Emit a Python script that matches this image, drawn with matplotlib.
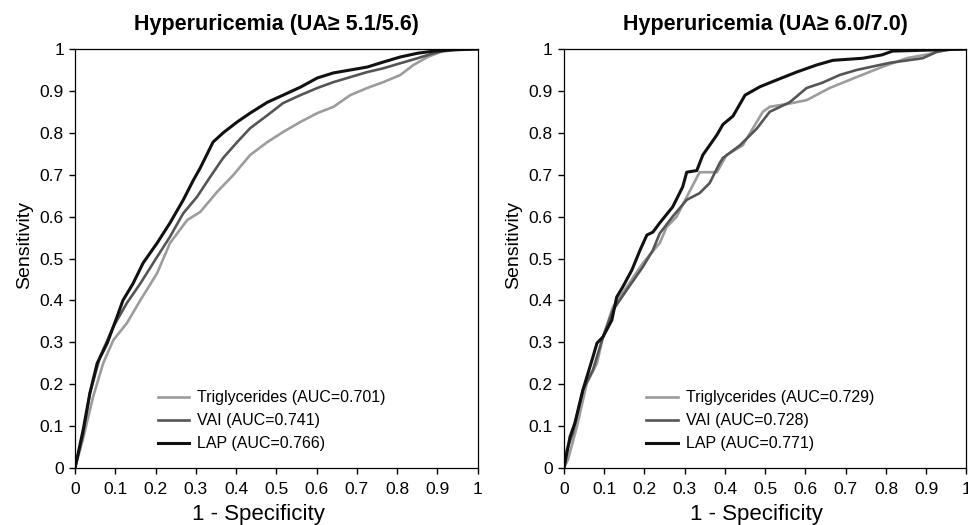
import matplotlib.pyplot as plt

plt.rcParams['font.family'] = ['Liberation Sans', 'DejaVu Sans']

# left panel: UA >= 5.1/5.6
tg1_x = [0, 0.02, 0.045, 0.07, 0.095, 0.129, 0.162, 0.204, 0.236, 0.279, 0.311, 0.353, 0.393, 0.435,
         0.478, 0.517, 0.56, 0.602, 0.642, 0.684, 0.726, 0.766, 0.808, 0.841, 0.876, 0.908, 0.958, 1]
tg1_y = [0, 0.07, 0.17, 0.25, 0.305, 0.346, 0.4, 0.465, 0.537, 0.592, 0.611, 0.659, 0.699, 0.747,
         0.778, 0.802, 0.826, 0.847, 0.862, 0.89, 0.907, 0.921, 0.938, 0.962, 0.981, 0.993, 1.0, 1]
vai1_x = [0, 0.02, 0.037, 0.062, 0.095, 0.129, 0.162, 0.204, 0.236, 0.269, 0.303, 0.336, 0.368, 0.403,
          0.435, 0.478, 0.517, 0.56, 0.602, 0.642, 0.684, 0.726, 0.766, 0.808, 0.851, 0.891, 0.925, 1]
vai1_y = [0, 0.08, 0.179, 0.265, 0.337, 0.394, 0.44, 0.504, 0.552, 0.608, 0.647, 0.695, 0.74, 0.778,
          0.811, 0.842, 0.871, 0.89, 0.907, 0.921, 0.933, 0.945, 0.954, 0.966, 0.978, 0.99, 0.998, 1]
lap1_x = [0, 0.02, 0.037, 0.055, 0.08, 0.104, 0.119, 0.144, 0.169, 0.204, 0.236, 0.269, 0.294, 0.311,
          0.343, 0.368, 0.403, 0.435, 0.478, 0.517, 0.56, 0.602, 0.642, 0.684, 0.726, 0.766, 0.808,
          0.851, 0.891, 0.94, 1]
lap1_y = [0, 0.09, 0.179, 0.25, 0.298, 0.36, 0.4, 0.44, 0.489, 0.537, 0.585, 0.64, 0.687, 0.716,
          0.778, 0.8, 0.826, 0.847, 0.873, 0.89, 0.909, 0.931, 0.943, 0.95, 0.957, 0.969, 0.981,
          0.99, 0.995, 0.998, 1]

# right panel: UA >= 6.0/7.0
tg2_x = [0, 0.01, 0.032, 0.057, 0.082, 0.097, 0.122, 0.156, 0.196, 0.238, 0.255, 0.28, 0.305, 0.337,
         0.38, 0.404, 0.444, 0.494, 0.511, 0.561, 0.603, 0.66, 0.727, 0.79, 0.851, 0.908, 0.94, 1]
tg2_y = [0, 0.02, 0.098, 0.203, 0.25, 0.313, 0.385, 0.432, 0.489, 0.537, 0.575, 0.6, 0.647, 0.706,
         0.706, 0.747, 0.77, 0.85, 0.862, 0.87, 0.878, 0.907, 0.933, 0.957, 0.978, 0.988, 0.998, 1]
vai2_x = [0, 0.007, 0.022, 0.047, 0.072, 0.097, 0.122, 0.156, 0.196, 0.221, 0.238, 0.27, 0.305, 0.337,
          0.362, 0.387, 0.395, 0.437, 0.479, 0.511, 0.561, 0.603, 0.643, 0.685, 0.727, 0.809, 0.891,
          0.926, 0.965, 1]
vai2_y = [0, 0.043, 0.083, 0.186, 0.234, 0.313, 0.377, 0.425, 0.48, 0.52, 0.56, 0.6, 0.64, 0.656,
          0.68, 0.728, 0.74, 0.77, 0.81, 0.85, 0.873, 0.907, 0.92, 0.938, 0.95, 0.967, 0.978,
          0.993, 1.0, 1]
lap2_x = [0, 0.015, 0.027, 0.047, 0.072, 0.082, 0.097, 0.119, 0.131, 0.146, 0.169, 0.189, 0.206, 0.221,
          0.238, 0.27, 0.295, 0.305, 0.33, 0.345, 0.38, 0.395, 0.42, 0.45, 0.487, 0.528, 0.578, 0.628,
          0.668, 0.742, 0.79, 0.816, 1]
lap2_y = [0, 0.074, 0.107, 0.186, 0.265, 0.298, 0.313, 0.353, 0.408, 0.432, 0.473, 0.52, 0.556, 0.563,
          0.585, 0.623, 0.671, 0.706, 0.71, 0.747, 0.795, 0.82, 0.84, 0.89, 0.91, 0.926, 0.945, 0.962,
          0.973, 0.978, 0.986, 0.995, 1]

titles = ['Hyperuricemia (UA\u2265 5.1/5.6)', 'Hyperuricemia (UA\u2265 6.0/7.0)']
auc_tg = [0.701, 0.729]
auc_vai = [0.741, 0.728]
auc_lap = [0.766, 0.771]
ticks = [0, 0.1, 0.2, 0.3, 0.4, 0.5, 0.6, 0.7, 0.8, 0.9, 1]
tick_labels = ['0', '0.1', '0.2', '0.3', '0.4', '0.5', '0.6', '0.7', '0.8', '0.9', '1']

panels = [(tg1_x, tg1_y, vai1_x, vai1_y, lap1_x, lap1_y),
          (tg2_x, tg2_y, vai2_x, vai2_y, lap2_x, lap2_y)]

fig = plt.figure(figsize=(9.68, 5.25), dpi=100)
ax_left = [0.0775, 0.5826]
xlab_x = [0.455, 0.479]

for i in range(2):
    ax = fig.add_axes([ax_left[i], 0.1086, 0.4158, 0.798])
    tx, ty, vx, vy, lx, ly = panels[i]
    ax.plot(tx, ty, color='#9c9c9c', lw=1.9, label='Triglycerides (AUC=%.3f)' % auc_tg[i])
    ax.plot(vx, vy, color='#555555', lw=1.9, label='VAI (AUC=%.3f)' % auc_vai[i])
    ax.plot(lx, ly, color='#111111', lw=2.2, label='LAP (AUC=%.3f)' % auc_lap[i])
    ax.set_xlim(0, 1)
    ax.set_ylim(0, 1)
    ax.set_xticks(ticks)
    ax.set_xticklabels(tick_labels)
    ax.set_yticks(ticks)
    ax.set_yticklabels(tick_labels)
    ax.tick_params(direction='out', length=4, width=1, labelsize=12.5)
    ax.tick_params(axis='x', pad=6)
    ax.tick_params(axis='y', pad=4)
    for s in ax.spines.values():
        s.set_linewidth(0.9)
    ax.set_title(titles[i], fontsize=15.5, fontweight='bold', pad=14)
    ax.set_xlabel('1 - Specificity', fontsize=16)
    ax.xaxis.set_label_coords(xlab_x[i], -0.086)
    ax.set_ylabel('Sensitivity', fontsize=14)
    ax.yaxis.set_label_coords(-0.104, 0.532)
    ax.legend(loc='lower left', bbox_to_anchor=(0.205, 0.04), frameon=False, fontsize=11.5,
              handlelength=2.0, handletextpad=0.5, labelspacing=0.5, borderpad=0, borderaxespad=0)

fig.savefig('out.png', dpi=100)
